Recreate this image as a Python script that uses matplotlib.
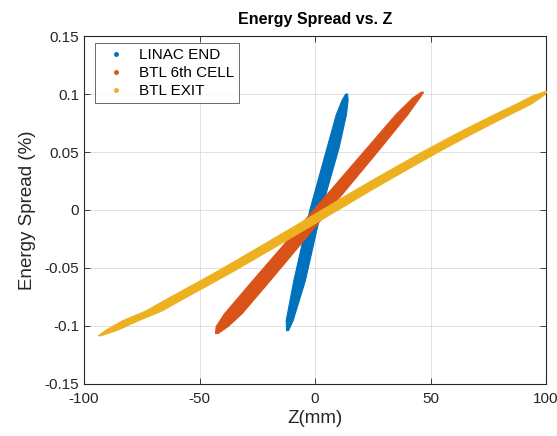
import matplotlib
matplotlib.use("Agg")
import matplotlib.pyplot as plt
from matplotlib.lines import Line2D
import numpy as np

plt.rcParams['font.family'] = ['Liberation Sans', 'DejaVu Sans']

# Bands: energy spread levels, band centre in Z and half-width in Z
linac_de = [-0.1036, -0.095, -0.0606, 0.0, 0.054, 0.0827, 0.095, 0.1004]
linac_z = [-12.1, -11.2, -6.9, 0.0, 7.6, 11.2, 12.8, 13.5]
linac_hw = [0.4, 1.5, 2.5, 2.5, 2.6, 2.2, 1.3, 0.4]

cell6_de = [-0.106, -0.100, -0.089, -0.061, -0.032, 0.0, 0.0254, 0.0506, 0.0827, 0.097, 0.102]
cell6_z = [-42.7, -40.4, -35.6, -23.6, -11.2, 2.4, 13.2, 23.9, 37.4, 43.6, 46.3]
cell6_hw = [0.6, 2.6, 3.8, 3.8, 3.6, 3.4, 3.2, 3.0, 2.6, 1.5, 0.5]

exit_de = [-0.108, -0.103, -0.095, -0.0867, -0.0755, -0.0646, -0.0536, -0.0421, -0.0305,
           -0.0188, -0.007, 0.0048, 0.0167, 0.0282, 0.0395, 0.0507, 0.0614, 0.0718,
           0.0818, 0.0915, 0.0985, 0.1025]
exit_z = [-93.4, -88.0, -80.0, -70.0, -60.0, -50.0, -40.0, -30.0, -20.0,
          -10.0, 0.0, 10.0, 20.0, 30.0, 40.0, 50.0, 60.0, 70.0,
          80.0, 90.0, 96.0, 100.0]
exit_hw = [0.6, 2.6, 3.4, 3.5, 3.5, 3.5, 3.5, 3.5, 3.5,
           3.5, 3.5, 3.5, 3.5, 3.5, 3.5, 3.5, 3.5, 3.5,
           3.4, 3.2, 2.4, 0.6]

labels = ['LINAC END', 'BTL 6th CELL', 'BTL EXIT']
colors = ['#0072BD', '#D95319', '#EDB120']

fig = plt.figure(figsize=(5.57, 4.36), dpi=100)
ax = fig.add_axes([0.1508, 0.1193, 0.8295, 0.7981])

bands = [(linac_de, linac_z, linac_hw), (cell6_de, cell6_z, cell6_hw), (exit_de, exit_z, exit_hw)]
for i, (de, z, hw) in enumerate(bands):
    de = np.array(de)
    z = np.array(z)
    hw = np.array(hw)
    ax.fill_betweenx(de, z - hw, z + hw, color=colors[i], lw=0.8, zorder=2 + i)

ax.set_xlim(-100, 100)
ax.set_ylim(-0.15, 0.15)
ax.set_xticks([-100, -50, 0, 50, 100])
ax.set_xticklabels(['-100', '-50', '0', '50', '100'])
ax.set_yticks([-0.15, -0.1, -0.05, 0, 0.05, 0.1, 0.15])
ax.set_yticklabels(['-0.15', '-0.1', '-0.05', '0', '0.05', '0.1', '0.15'])
ax.grid(True, color='#DCDCDC', lw=0.6, zorder=0)
ax.set_axisbelow(True)
ax.tick_params(direction='in', top=True, right=True, labelsize=11, length=4, width=0.6,
               colors='#262626')
ax.tick_params(axis='x', pad=6)
for s in ax.spines.values():
    s.set_color('#262626')
    s.set_linewidth(0.8)

ax.set_title('Energy Spread vs. Z', fontsize=11.5, fontweight='bold', pad=9)
ax.set_xlabel('Z(mm)', fontsize=13.5, color='#262626', labelpad=3)
ax.set_ylabel('Energy Spread (%)', fontsize=13.5, color='#262626', labelpad=6)

handles = [Line2D([], [], ls='none', marker='.', ms=5, color=c) for c in colors]
leg = ax.legend(handles, labels, loc='upper left', bbox_to_anchor=(0.024, 0.98),
                fontsize=11, frameon=True, fancybox=False, handlelength=2.1,
                borderpad=0.35, labelspacing=0.25, handletextpad=0.4, borderaxespad=0)
leg.get_frame().set_edgecolor('#262626')
leg.get_frame().set_linewidth(0.6)
leg.set_zorder(10)

fig.savefig('out.png', dpi=100)
